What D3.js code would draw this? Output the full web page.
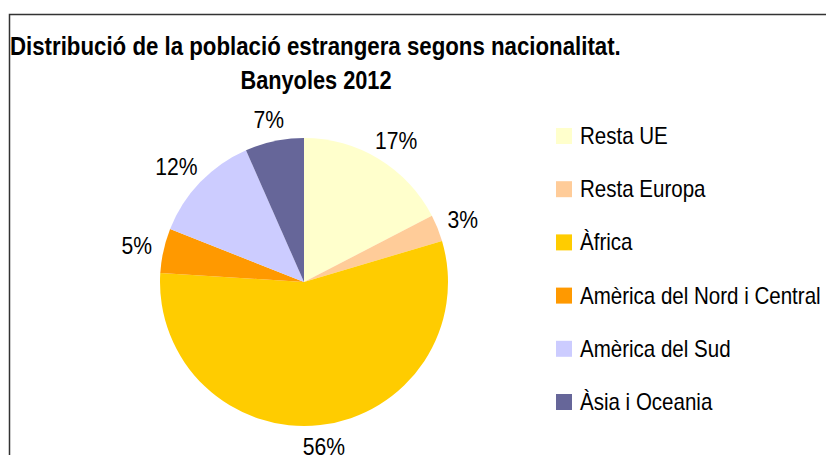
<!DOCTYPE html>
<html>
<head>
<meta charset="utf-8">
<script src="https://cdn.jsdelivr.net/npm/d3@7"></script>
<style>
  body { margin: 0; background: #fff; }
  svg { display: block; font-family: "Liberation Sans Narrow", "Arial Narrow", "Liberation Sans", sans-serif; }
</style>
</head>
<body>
<div id="chart"></div>
<script>

    // chart data
    const categories = ["Resta UE", "Resta Europa", "Àfrica", "Amèrica del Nord i Central", "Amèrica del Sud", "Àsia i Oceania"];
    const shares = [17.4, 3.0, 55.6, 5.0, 12.4, 6.6];
    const colours = ["#FFFFCC", "#FFCC99", "#FFCC00", "#FF9900", "#CCCCFF", "#666699"];
    const titleLines = ["Distribució de la població estrangera segons nacionalitat.", "Banyoles 2012"];

    const width = 826, height = 455;
    const cx = 304, cy = 282, radius = 144;

    // no narrow font here, so squeeze the glyphs to look like Arial Narrow
    function condense(sel, k) {
        sel.each(function () {
            const w = this.getComputedTextLength();
            d3.select(this).attr("textLength", w * k).attr("lengthAdjust", "spacingAndGlyphs");
        });
    }

    const svg = d3.select("#chart").append("svg")
        .attr("width", width).attr("height", height);

    // outer frame (runs off the right and bottom edges)
    svg.append("rect")
        .attr("x", 9.5).attr("y", 14.5)
        .attr("width", width + 20).attr("height", height + 20)
        .attr("fill", "none").attr("stroke", "#333").attr("stroke-width", 1.5);

    // title
    svg.append("text")
        .attr("x", 10).attr("y", 55)
        .attr("font-size", 25).attr("font-weight", "bold").attr("fill", "#000")
        .text(titleLines[0])
        .call(condense, 0.89);
    svg.append("text")
        .attr("x", 316).attr("y", 89).attr("text-anchor", "middle")
        .attr("font-size", 25).attr("font-weight", "bold").attr("fill", "#000")
        .text(titleLines[1])
        .call(condense, 0.87);

    const data = categories.map(function (c, i) { return { name: c, value: shares[i], colour: colours[i] }; });

    const pie = d3.pie().sort(null).value(function (d) { return d.value; });
    const arcs = pie(data);
    const arc = d3.arc().innerRadius(0).outerRadius(radius);

    const g = svg.append("g").attr("transform", "translate(" + cx + "," + cy + ")");

    g.selectAll("path.slice").data(arcs).enter()
        .append("path").attr("class", "slice")
        .attr("d", arc)
        .attr("fill", function (d) { return d.data.colour; });

    // percentage labels sit just outside the rim, pushed out by half their box
    const total = d3.sum(shares);
    const labelGap = 12;
    g.selectAll("text.pct").data(arcs).enter()
        .append("text").attr("class", "pct")
        .attr("font-size", 24).attr("fill", "#000")
        .attr("text-anchor", "middle").attr("dominant-baseline", "central")
        .text(function (d) { return Math.round(d.data.value / total * 100) + "%"; })
        .call(condense, 0.88)
        .each(function (d) {
            const a = (d.startAngle + d.endAngle) / 2;
            const bw = +d3.select(this).attr("textLength");
            const bh = 20;
            const rr = radius + labelGap;
            const x = Math.sin(a) * rr + Math.sin(a) * bw / 2;
            const y = -Math.cos(a) * rr - Math.cos(a) * bh / 2;
            d3.select(this).attr("x", x).attr("y", y);
        });

    // legend
    const legendY = d3.scaleBand().domain(categories).range([128, 128 + 53.2 * categories.length]);
    const legend = svg.append("g").attr("class", "legend");
    const item = legend.selectAll("g").data(data).enter().append("g")
        .attr("transform", function (d) { return "translate(556," + legendY(d.name) + ")"; });
    item.append("rect").attr("width", 16).attr("height", 16)
        .attr("fill", function (d) { return d.colour; });
    item.append("text").attr("x", 24).attr("y", 16)
        .attr("font-size", 24).attr("fill", "#000")
        .text(function (d) { return d.name; })
        .call(condense, 0.855);

</script>
</body>
</html>
